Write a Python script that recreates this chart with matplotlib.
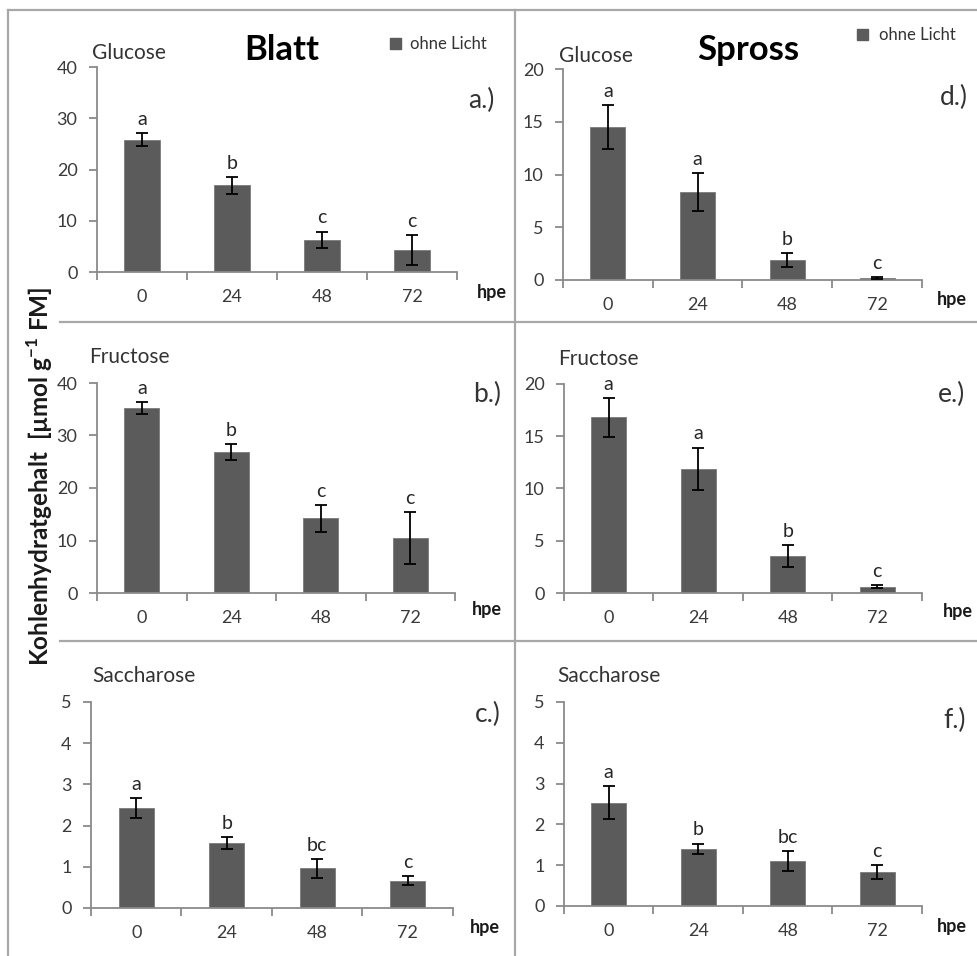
import numpy as np
import matplotlib
matplotlib.use('Agg')
import matplotlib.pyplot as plt
from matplotlib.lines import Line2D
from matplotlib.patches import Rectangle

plt.rcParams['font.family'] = ['Lato', 'DejaVu Sans']

# Daten (Mittelwert +/- Fehler)
hpe = ['0', '24', '48', '72']

blatt_glc = [25.8, 16.9, 6.3, 4.3]
blatt_glc_err = [1.3, 1.6, 1.6, 2.9]
blatt_glc_sig = ['a', 'b', 'c', 'c']

blatt_fru = [35.2, 26.8, 14.2, 10.5]
blatt_fru_err = [1.1, 1.5, 2.5, 4.9]
blatt_fru_sig = ['a', 'b', 'c', 'c']

blatt_sac = [2.42, 1.57, 0.96, 0.66]
blatt_sac_err = [0.24, 0.15, 0.23, 0.11]
blatt_sac_sig = ['a', 'b', 'bc', 'c']

spross_glc = [14.5, 8.3, 1.9, 0.2]
spross_glc_err = [2.1, 1.8, 0.65, 0.1]
spross_glc_sig = ['a', 'a', 'b', 'c']

spross_fru = [16.8, 11.9, 3.5, 0.6]
spross_fru_err = [1.85, 2.0, 1.05, 0.15]
spross_fru_sig = ['a', 'a', 'b', 'c']

spross_sac = [2.53, 1.4, 1.1, 0.83]
spross_sac_err = [0.4, 0.13, 0.24, 0.17]
spross_sac_sig = ['a', 'b', 'bc', 'c']

W, H = 978, 956
fig = plt.figure(figsize=(W / 100, H / 100), dpi=100)

BAR = '#5b5b5b'
AX = '#8a8a8a'
TXT = '#3a3a3a'


def fx(x):
    return x / W


def fy(y):
    return 1 - y / H


def panel(box, vals, errs, sig, ymax, ystep, name, name_pos, tag, tag_pos, hpe_pos):
    l, r, t, b = box
    ax = fig.add_axes([fx(l), fy(b), fx(r) - fx(l), fy(t) - fy(b)])
    x = np.arange(len(vals))
    ax.bar(x, vals, width=0.39, color=BAR, edgecolor='#7a7a7a', linewidth=0.6, zorder=2)
    ax.errorbar(x, vals, yerr=errs, fmt='none', ecolor='black', elinewidth=1.3,
                capsize=4, capthick=1.3, zorder=3)
    for xi, v, e, s in zip(x, vals, errs, sig):
        ax.annotate(s, (xi, v + e), xytext=(0, 6), textcoords='offset points',
                    ha='center', va='baseline', fontsize=14, color='#262626')
    ax.set_xlim(-0.5, len(vals) - 0.5)
    ax.set_ylim(0, ymax)
    ax.set_yticks(np.arange(0, ymax + 0.01, ystep))
    ax.set_xticks(np.arange(-0.5, len(vals), 1.0))
    ax.set_xticklabels([])
    ax.set_xticks(x, minor=True)
    ax.set_xticklabels(hpe, minor=True)
    ax.tick_params(axis='x', which='major', direction='out', length=6, width=1.3, color=AX)
    ax.tick_params(axis='x', which='minor', length=0, pad=12, labelsize=13, labelcolor=TXT)
    ax.tick_params(axis='y', direction='out', length=6, width=1.3, color=AX,
                   pad=8, labelsize=13, labelcolor=TXT)
    for sp in ['top', 'right']:
        ax.spines[sp].set_visible(False)
    for sp in ['left', 'bottom']:
        ax.spines[sp].set_color(AX)
        ax.spines[sp].set_linewidth(1.3)
    ax.set_facecolor('none')
    fig.text(fx(name_pos[0]), fy(name_pos[1]), name, fontsize=15, color='#333333',
             ha='left', va='baseline')
    fig.text(fx(tag_pos[0]), fy(tag_pos[1]), tag, fontsize=19, color='#333333',
             ha='left', va='baseline')
    fig.text(fx(hpe_pos[0]), fy(hpe_pos[1]), 'hpe', fontsize=13, fontweight='bold',
             color='#1a1a1a', ha='center', va='baseline')
    return ax


# Blatt
panel((97, 457, 67, 272), blatt_glc, blatt_glc_err, blatt_glc_sig, 40, 10,
      'Glucose', (92, 59), 'a.)', (468, 108), (492, 298))
panel((97, 455, 383, 593), blatt_fru, blatt_fru_err, blatt_fru_sig, 40, 10,
      'Fructose', (89, 363), 'b.)', (473, 402), (487, 615))
panel((91, 453, 702, 908), blatt_sac, blatt_sac_err, blatt_sac_sig, 5, 1,
      'Saccharose', (92, 682), 'c.)', (475, 722), (485, 933))

# Spross
panel((563, 922, 69, 280), spross_glc, spross_glc_err, spross_glc_sig, 20, 5,
      'Glucose', (559, 62), 'd.)', (940, 105), (952, 305))
panel((564, 922, 384, 593), spross_fru, spross_fru_err, spross_fru_sig, 20, 5,
      'Fructose', (558, 365), 'e.)', (938, 402), (958, 617))
panel((564, 922, 702, 906), spross_sac, spross_sac_err, spross_sac_sig, 5, 1,
      'Saccharose', (557, 682), 'f.)', (943, 728), (952, 932))

# Titel
fig.text(fx(282), fy(60), 'Blatt', fontsize=25, fontweight='bold', color='black',
         ha='center', va='baseline')
fig.text(fx(748), fy(60), 'Spross', fontsize=25, fontweight='bold', color='black',
         ha='center', va='baseline')

# Legende "ohne Licht"
for sq, tx in [((390, 38), (410, 49)), ((857, 29), (879, 40))]:
    fig.patches.append(Rectangle((fx(sq[0]), fy(sq[1] + 11)), fx(11), 11 / H,
                                 transform=fig.transFigure, color=BAR))
    fig.text(fx(tx[0]), fy(tx[1]), 'ohne Licht', fontsize=12, color='#333333',
             ha='left', va='baseline')

# y-Achsentitel
fig.text(fx(40), fy(476), r'Kohlenhydratgehalt  [µmol g$^{\mathregular{-1}}$ FM]',
         rotation=90, fontsize=17.5, fontweight='bold', color='#1a1a1a',
         ha='center', va='center')

# Rahmen / Trennlinien
GRID = '#a8a8a8'
lines = [((8, 8), (10, 956)), ((8, 978), (10, 10)), ((515, 515), (10, 956)),
         ((60, 978), (322, 322)), ((60, 978), (641, 641))]
for xs, ys in lines:
    fig.add_artist(Line2D([fx(xs[0]), fx(xs[1])], [fy(ys[0]), fy(ys[1])],
                          transform=fig.transFigure, color=GRID, linewidth=1.6))

fig.savefig('out.png', dpi=100)
